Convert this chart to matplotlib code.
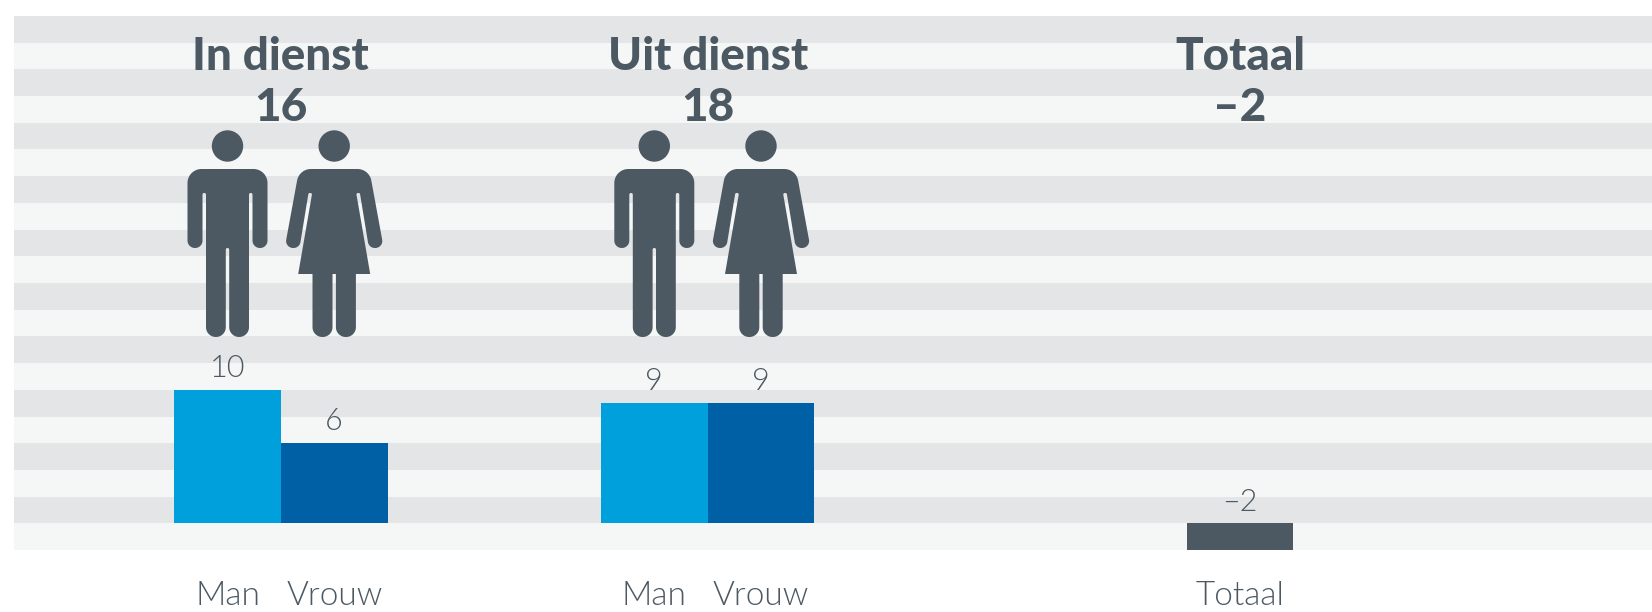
import matplotlib
matplotlib.use("Agg")
import matplotlib.pyplot as plt
import numpy as np
from matplotlib.path import Path
from matplotlib.patches import PathPatch, Circle
from matplotlib.transforms import Affine2D, blended_transform_factory

categories = ["Man", "Vrouw", "Man", "Vrouw", "Totaal"]
values = [10, 6, 9, 9, -2]
colors = ["#00a0dc", "#0060a6", "#00a0dc", "#0060a6", "#4c5963"]
groups = ["In dienst", "Uit dienst", "Totaal"]
group_totals = ["16", "18", "–2"]

TEXT = "#4c5963"
W, H = 1652, 612
px_per_slot = 106.7
x0_px = 227.5
slots = [0, 1, 4, 5, 9.49]
group_slots = [0.5, 4.5, 9.49]

fig = plt.figure(figsize=(W / 100, H / 100), dpi=100, facecolor="white")
L, R, T, B = 14, 1652, 16, 550
ax = fig.add_axes([L / W, 1 - B / H, (R - L) / W, (B - T) / H])
ax.set_xlim((L - x0_px) / px_per_slot, (R - x0_px) / px_per_slot)
ax.set_ylim(-2, 38)
ax.set_facecolor("#f5f7f6")
for s in ax.spines.values():
    s.set_visible(False)
ax.set_yticks([])
for k, lo in enumerate(np.arange(-2, 38, 2)):
    ax.axhspan(lo, lo + 2, color="#f5f7f6" if k % 2 == 0 else "#e4e5e7", lw=0, zorder=0)

ax.bar(slots, values, width=1.0, color=colors, linewidth=0, zorder=2)

ax.set_xticks(slots)
ax.set_xticklabels(categories, fontsize=24, family="Lato", fontweight=300, color=TEXT)
ax.tick_params(axis="x", length=0, pad=0)
for t in ax.get_xticklabels():
    t.set_verticalalignment("baseline")
    t.set_y(-(605 - 550) / (B - T))

px_y = Affine2D().scale(1, -1).translate(0, H)
blend = blended_transform_factory(ax.transData, px_y)

for x, v in zip(slots, values):
    label = str(v).replace("-", "–")
    ax.annotate(label, (x, max(v, 0)), xytext=(0, 9.2), textcoords="offset points",
                ha="center", va="baseline", fontsize=22, family="Lato",
                fontweight=300, color=TEXT, zorder=4)

for x, g, tot in zip(group_slots, groups, group_totals):
    ax.text(x, 70, g, transform=blend, ha="center", va="baseline", fontsize=33,
            family="Lato", fontweight=900, color=TEXT, zorder=4)
    ax.text(x, 121, tot, transform=blend, ha="center", va="baseline", fontsize=33,
            family="Lato", fontweight=900, color=TEXT, zorder=4)


def rounded(points):
    """Closed outline from (x, y, corner radius) vertices; corners are true arcs."""
    n = len(points)
    verts = []
    for i, (x, y, r) in enumerate(points):
        p = np.array([x, y], float)
        a = np.array(points[i - 1][:2], float)
        b = np.array(points[(i + 1) % n][:2], float)
        if r > 0:
            u = (a - p) / np.linalg.norm(a - p)
            w = (b - p) / np.linalg.norm(b - p)
            ang = np.arccos(np.clip(np.dot(u, w), -1, 1))
            d = r / np.tan(ang / 2)
            s, e = p + u * d, p + w * d
            cen_dir = (u + w) / np.linalg.norm(u + w)
            cen = p + cen_dir * (r / np.sin(ang / 2))
            a0 = np.arctan2(*(s - cen)[::-1])
            a1 = np.arctan2(*(e - cen)[::-1])
            da = (a1 - a0 + np.pi) % (2 * np.pi) - np.pi
            for f in np.linspace(0, 1, 13):
                verts.append(cen + r * np.array([np.cos(a0 + da * f), np.sin(a0 + da * f)]))
        else:
            verts.append(p)
    verts.append(verts[0])
    return Path(np.array(verts), closed=True)


MAN = [(-40, 169, 14), (40, 169, 14), (40, 248, 7.4), (25, 248, 7.4), (25, 193, 1.6),
       (21.5, 193, 1.6), (21.5, 337, 9.8), (1.7, 337, 9.8), (1.7, 248, 1.6), (-1.7, 248, 1.6),
       (-1.7, 337, 9.8), (-21.5, 337, 9.8), (-21.5, 193, 1.6), (-25, 193, 1.6),
       (-25, 248, 7.4), (-40, 248, 7.4)]
WOMAN = [(-35, 169, 14), (35, 169, 14), (49.5, 248, 7), (34.7, 248, 7), (25.7, 193, 1.5),
         (22, 193, 1.5), (36, 274, 0), (21.7, 274, 0), (21.7, 337, 9.8), (1.7, 337, 9.8),
         (1.7, 274, 0), (-1.7, 274, 0), (-1.7, 337, 9.8), (-21.7, 337, 9.8), (-21.7, 274, 0),
         (-36, 274, 0), (-22, 193, 1.5), (-25.7, 193, 1.5), (-34.7, 248, 7), (-49.5, 248, 7)]

for i, cat in zip(slots[:4], categories[:4]):
    cx = ax.transData.transform((i, 0))[0]
    tr = Affine2D().translate(cx, 0) + px_y
    shape = MAN if cat == "Man" else WOMAN
    fig.add_artist(PathPatch(rounded(shape), transform=tr, facecolor=TEXT, lw=0, zorder=5))
    fig.add_artist(Circle((0, 146), 15.7, transform=tr, facecolor=TEXT, lw=0, zorder=5))

fig.savefig("out.png", dpi=100, facecolor="white")
